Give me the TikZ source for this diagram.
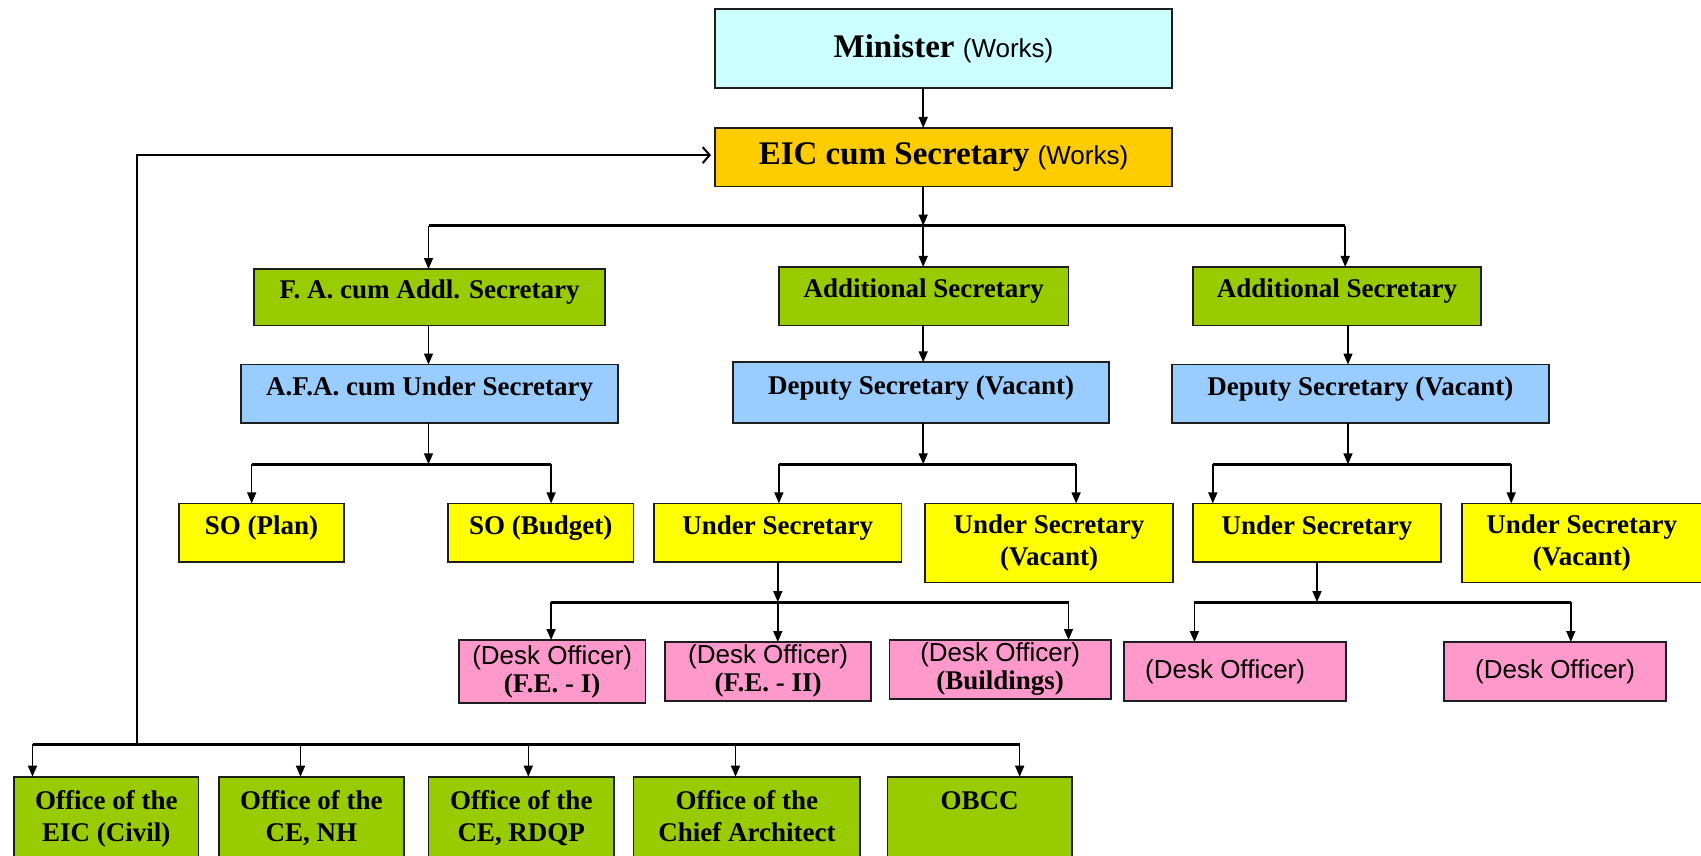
\documentclass[tikz,border=0pt]{standalone}
\usepackage{fontspec}
\setmainfont{Liberation Serif}
\newfontfamily\arialfont{Liberation Sans}
\usetikzlibrary{arrows.meta}

\definecolor{cyanbox}{HTML}{CCFFFF}
\definecolor{goldbox}{HTML}{FFCC00}
\definecolor{greenbox}{HTML}{99CC00}
\definecolor{bluebox}{HTML}{99CCFF}
\definecolor{yellowbox}{HTML}{FFFF00}
\definecolor{pinkbox}{HTML}{FF99CC}
\definecolor{edge}{HTML}{1E1E1E}

% box from corner (x1,y1) to corner (x2,y2), y measured downwards
\newcommand\orgbox[7]{%
  \node[#2, minimum width={#5-#3}, minimum height={#6-#4}]
    (#1) at ({(#3+#5)/2},{(#4+#6)/2}) {#7};}

\newcommand\bigtxt{\fontsize{33}{38}\selectfont\bfseries}
\newcommand\txt{\fontsize{27}{32.5}\selectfont\bfseries}
\newcommand\desktxt{\fontsize{27}{28}\selectfont\bfseries}
\newcommand\sanstxt{\arialfont\fontsize{26}{28}\selectfont\mdseries}
\newcommand\worksA{{\arialfont\fontsize{26}{28}\selectfont\mdseries (Works)}}

\begin{document}
\begin{tikzpicture}[x=1pt,y=-1pt,
  box/.style={draw=edge, line width=1.8pt, inner sep=0pt, outer sep=0pt,
              align=center, font=\txt},
  one/.style={text height=0.7em, text depth=0.42em},
  ln/.style={line width=1.5pt, draw=black},
  bar/.style={line width=2.8pt, draw=black},
  arr/.style={ln, -{Triangle[width=9pt,length=11pt]}},
  back/.style={line width=2pt, draw=black, -{Straight Barb[width=16pt,length=7pt,line width=2pt]}}
]
\useasboundingbox (0,0) rectangle (1701,856);

% ---- top ----
\orgbox{minister}{box,fill=cyanbox,font=\bigtxt}{715}{8.7}{1172}{87.9}{Minister \worksA}
\orgbox{eic}{box,fill=goldbox,font=\bigtxt}{715}{128}{1172}{186.6}{EIC cum Secretary \worksA}

% ---- additional secretaries ----
\orgbox{fa}{box,one,fill=greenbox}{253.8}{269}{605.3}{325.4}{F. A. cum Addl. Secretary}
\orgbox{asm}{box,one,fill=greenbox}{778.9}{266.9}{1068.5}{325.4}{Additional Secretary}
\orgbox{asr}{box,one,fill=greenbox}{1193.3}{266.9}{1480.8}{325.4}{Additional Secretary}

% ---- deputies ----
\orgbox{afa}{box,one,fill=bluebox}{240.8}{364.5}{618.3}{423.1}{A.F.A. cum Under Secretary}
\orgbox{dsm}{box,one,fill=bluebox}{733.3}{362.3}{1108.7}{423.1}{Deputy Secretary (Vacant)}
\orgbox{dsr}{box,one,fill=bluebox}{1171.6}{364.5}{1549.1}{423.1}{Deputy Secretary (Vacant)}

% ---- section officers / under secretaries ----
\orgbox{soplan}{box,one,fill=yellowbox}{179}{503.4}{343.9}{561.9}{SO (Plan)}
\orgbox{sobud}{box,one,fill=yellowbox}{448}{503.4}{633.5}{561.9}{SO (Budget)}
\orgbox{usm}{box,one,fill=yellowbox}{654.1}{503.4}{901.5}{561.9}{Under Secretary}
\orgbox{usvm}{box,fill=yellowbox}{925.3}{503.4}{1172.7}{582.5}{Under Secretary\\(Vacant)}
\orgbox{usr}{box,one,fill=yellowbox}{1193.3}{503.4}{1440.6}{561.9}{Under Secretary}
\orgbox{usvr}{box,fill=yellowbox}{1462.3}{503.4}{1720}{582.5}{\hspace*{-18.7pt}Under Secretary\\\hspace*{-18.7pt}(Vacant)}

% ---- desk officers ----
\orgbox{do1}{box,fill=pinkbox,font=\desktxt}{458.9}{640}{645.5}{703}{{\sanstxt (Desk Officer)}\\(F.E. - I)}
\orgbox{do2}{box,fill=pinkbox,font=\desktxt}{665}{642}{871.1}{700.8}{{\sanstxt (Desk Officer)}\\(F.E. - II)}
\orgbox{do3}{box,fill=pinkbox,font=\desktxt}{889.5}{640}{1110.9}{699}{{\sanstxt (Desk Officer)}\\(Buildings)}
\orgbox{do4}{box,fill=pinkbox,font=\sanstxt}{1123.9}{642}{1346.3}{700.8}{\hspace*{-20pt}(Desk Officer)}
\orgbox{do5}{box,fill=pinkbox,font=\sanstxt}{1443.9}{642}{1666.3}{700.8}{(Desk Officer)}

% ---- field offices ----
\orgbox{of1}{box,fill=greenbox}{14.1}{776.7}{198.5}{861.3}{\strut Office of the\\EIC (Civil)\strut}
\orgbox{of2}{box,fill=greenbox}{219.1}{776.7}{403.6}{861.3}{\strut Office of the\\CE, NH\strut}
\orgbox{of3}{box,fill=greenbox}{428.5}{776.7}{614}{861.3}{\strut Office of the\\CE, RDQP\strut}
\orgbox{of4}{box,fill=greenbox}{633.5}{776.7}{860.3}{861.3}{\strut Office of the\\Chief Architect\strut}
\orgbox{of5}{box,fill=greenbox}{887.4}{776.7}{1071.8}{861.3}{\strut OBCC\\\strut}

% ---- junction points of the branch bars ----
\coordinate (j1)  at (923.2,225.6);
\coordinate (j1l) at (428.5,225.6);
\coordinate (j1r) at (1345.2,225.6);
\coordinate (cr)  at (1348,0);
\coordinate (j2)  at (428.5,464.3);
\coordinate (j2l) at (251.7,464.3);
\coordinate (j2r) at (551.1,464.3);
\coordinate (j3)  at (923.2,464.3);
\coordinate (j3l) at (778.9,464.3);
\coordinate (j3r) at (1076.1,464.3);
\coordinate (j4)  at (1348,464.3);
\coordinate (j4l) at (1212.8,464.3);
\coordinate (j4r) at (1511.2,464.3);
\coordinate (j5)  at (777.8,602.1);
\coordinate (j5l) at (551.1,602.1);
\coordinate (j5r) at (1068.5,602.1);
\coordinate (j6)  at (1317,602.1);
\coordinate (j6l) at (1194.4,602.1);
\coordinate (j6r) at (1570.8,602.1);
\coordinate (j7)  at (136.7,744.2);
\coordinate (j7l) at (32.5,744.2);
\coordinate (j7r) at (1019.7,744.2);
\coordinate (fbc) at (136.7,155.1);
\coordinate (o2x) at (300.5,744.2);
\coordinate (o3x) at (528.3,744.2);
\coordinate (o4x) at (735.5,744.2);

% ---- connectors ----
\draw[arr] (minister.south -| j1) -- (eic.north -| j1);
\draw[bar] (j1l) -- (j1r);
\draw[arr] (eic.south -| j1) -- (j1);
\draw[arr] (j1l) -- (fa.north -| j1l);
\draw[arr] (j1) -- (asm.north -| j1);
\draw[arr] (j1r) -- (asr.north -| j1r);

\draw[arr] (fa.south -| j2) -- (afa.north -| j2);
\draw[arr] (asm.south -| j3) -- (dsm.north -| j3);
\draw[arr] (asr.south -| cr) -- (dsr.north -| cr);

\draw[bar] (j2l) -- (j2r);
\draw[arr] (afa.south -| j2) -- (j2);
\draw[arr] (j2l) -- (soplan.north -| j2l);
\draw[arr] (j2r) -- (sobud.north -| j2r);

\draw[bar] (j3l) -- (j3r);
\draw[arr] (dsm.south -| j3) -- (j3);
\draw[arr] (j3l) -- (usm.north -| j3l);
\draw[arr] (j3r) -- (usvm.north -| j3r);

\draw[bar] (j4l) -- (j4r);
\draw[arr] (dsr.south -| j4) -- (j4);
\draw[arr] (j4l) -- (usr.north -| j4l);
\draw[arr] (j4r) -- (usvr.north -| j4r);

\draw[bar] (j5l) -- (j5r);
\draw[arr] (usm.south -| j5) -- (j5);
\draw[arr] (j5l) -- (do1.north -| j5l);
\draw[arr] (j5) -- (do2.north -| j5);
\draw[arr] (j5r) -- (do3.north -| j5r);

\draw[bar] (j6l) -- (j6r);
\draw[arr] (usr.south -| j6) -- (j6);
\draw[arr] (j6l) -- (do4.north -| j6l);
\draw[arr] (j6r) -- (do5.north -| j6r);

% field offices report back to the EIC cum Secretary
\draw[bar] (j7l) -- (j7r);
\draw[back, shorten >=4pt] (j7) -- (fbc) -- (eic.west |- fbc);
\draw[arr] (j7l) -- (of1.north -| j7l);
\draw[arr] (o2x) -- (of2.north -| o2x);
\draw[arr] (o3x) -- (of3.north -| o3x);
\draw[arr] (o4x) -- (of4.north -| o4x);
\draw[arr] (j7r) -- (of5.north -| j7r);
\end{tikzpicture}
\end{document}
